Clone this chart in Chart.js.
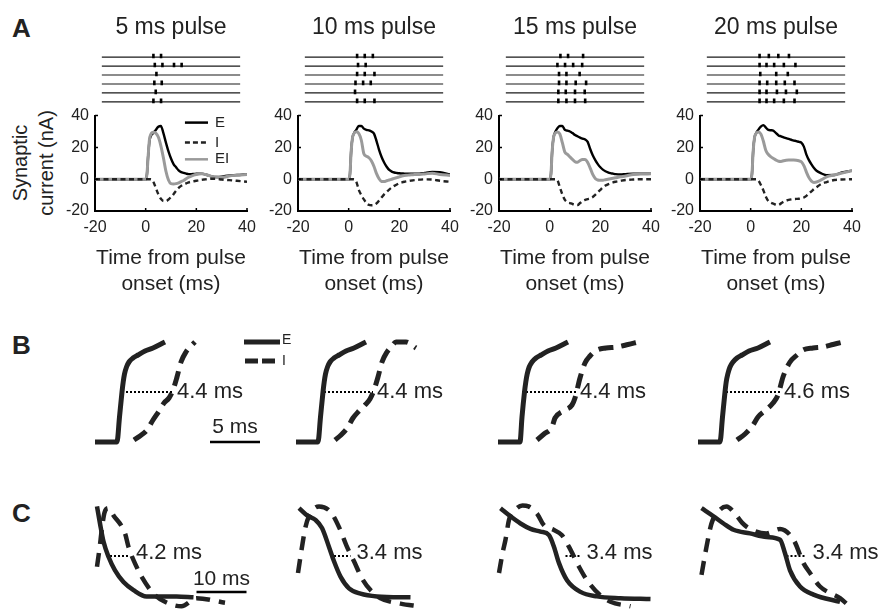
<!DOCTYPE html>
<html>
<head>
<meta charset="utf-8">
<script src="https://cdn.jsdelivr.net/npm/chart.js@4.4.0/dist/chart.umd.min.js"></script>
<style>
  body { margin: 0; background: #fff; }
  #fig { position: relative; width: 879px; height: 611px; overflow: hidden; background: #fff;
         font-family: 'Liberation Sans', Arial, Helvetica, sans-serif; color: #222; }
  #fig canvas { position: absolute; }
  .panel { position: absolute; left: 12px; font-weight: bold; font-size: 26px; line-height: 26px; color: #222; }
  .ytitle { position: absolute; left: -33px; top: 137px; width: 132px; height: 52px; transform: rotate(-90deg);
            text-align: center; font-size: 20px; line-height: 26px; color: #222; white-space: nowrap; }
</style>
</head>
<body>
<div id="fig">
  <div class="panel" style="top:15px">A</div>
  <div class="panel" style="top:332px">B</div>
  <div class="panel" style="top:500px">C</div>
  <div class="ytitle">Synaptic<br>current (nA)</div>
</div>
<script>
var FONT = "'Liberation Sans', Arial, Helvetica, sans-serif";
var INK = '#222';

// ---- panel A: pulse titles, ticks
var PULSE_TITLES = ['5 ms pulse', '10 ms pulse', '15 ms pulse', '20 ms pulse'];
var A_X_TICKS = [-20, 0, 20, 40];
var A_Y_TICKS = [-20, 0, 20, 40];

// spike times (ms from pulse onset), one list per trial row
var SPIKES_5 = [[2.4, 5.7], [3.0, 6.3, 11.3, 14.6], [3.7], [2.8, 6.0], [3.4], [2.4, 5.7]];
var SPIKES_10 = [[2.7, 6.0, 9.5], [3.1, 6.4], [2.7, 6.0, 10.2], [2.0, 5.3, 8.6], [1.8], [2.7, 6.0, 10.2]];
var SPIKES_15 = [[3.7, 7.0, 13.5], [2.4, 5.7, 9.2, 13.1], [3.1, 6.3, 12.0], [3.1, 6.3, 10.3, 14.8], [2.8, 6.0, 10.0, 14.2], [2.8, 6.3, 10.0, 14.4]];
var SPIKES_20 = [[2.9, 6.9, 11.0, 15.6], [2.9, 5.9, 9.2, 13.4, 18.4], [3.2, 10.1, 15.1], [2.9, 6.2, 10.1, 13.8, 18.0], [2.9, 5.9, 10.4, 14.3, 19.0], [2.9, 5.9, 9.2, 13.4, 18.0]];

// synaptic currents (nA), sampled at T_A (ms)
var T_A = [-20, 0, 0.5, 1, 1.5, 2, 3, 4, 5, 6, 7, 8, 9, 10, 11, 12, 13, 14, 15, 16, 17, 18, 19, 20, 21, 22, 23, 24, 25, 26, 28, 30, 33, 36, 40];

var E_5 = [0, 0, 3, 15, 24, 27, 29, 31, 33, 33.5, 29, 23, 17.5, 13, 9.5, 7.5, 5.5, 4.5, 4, 3.5, 3.2, 3.2, 3.3, 3.4, 3.5, 3.5, 3.2, 2.8, 2.3, 1.8, 1.4, 1.6, 2.4, 2.6, 3.2];
var EI_5 = [0, 0, 3, 15, 25, 28, 29.5, 29, 26.5, 21, 13.5, 5, -0.5, -2.8, -3, -2.8, -2.3, -1.5, -0.8, 0.3, 1.2, 2, 2.6, 3, 3.3, 3.4, 3.2, 2.8, 2.3, 1.8, 1.2, 1, 2, 2.5, 3];
var I_5 = [0, 0, 0, 0, 0, 0, -1.5, -5.5, -9.5, -12.3, -13.7, -13.8, -12.8, -11.2, -9.4, -7.2, -5.5, -4.2, -3.2, -2.6, -2, -1.6, -1.3, -1, -0.7, -0.4, -0.2, 0, 0.2, 0.3, 0.2, -0.2, -0.6, -1, -1.6];

var E_10 = [0, 0, 3, 18, 26, 28.5, 31, 33.5, 33.5, 31.8, 31, 30.7, 30, 28.7, 24, 18.5, 14, 10.5, 7.8, 5.8, 4.8, 4.2, 3.9, 3.7, 3.6, 3.5, 3.4, 3.4, 3.4, 3.4, 3.5, 4, 4.5, 4.4, 3];
var EI_10 = [0, 0, 3, 18, 26, 28.5, 29.8, 28.7, 24.5, 16, 14.5, 13.5, 11.5, 8, 3.5, 0.3, -1.4, -1.5, -1, -0.5, 0, 0.5, 1, 1.5, 2, 2.3, 2.5, 2.7, 2.8, 2.9, 3, 3.3, 3.8, 3, 2.4];
var I_10 = [0, 0, 0, 0, 0, 0, -1.5, -6.7, -10, -12.7, -15, -16.2, -16.4, -16.2, -15.2, -13.4, -11.4, -9.5, -8, -6.5, -5.2, -4.2, -3.3, -2.5, -2, -1.6, -1.3, -1, -0.8, -0.6, -0.3, -0.1, -0.2, -1, -1.6];

var E_15 = [0, 0, 3, 18, 26, 29, 32, 33.5, 33.5, 31, 30.5, 30, 29, 27.8, 27, 26.2, 25.5, 25, 23.5, 19, 15, 12, 9.5, 7.5, 6, 5, 4.3, 3.8, 3.5, 3.2, 3, 3.2, 3.4, 3.4, 3.4];
var EI_15 = [0, 0, 3, 18, 26, 28.5, 29.7, 28.5, 23, 17, 15.6, 14, 12.5, 11, 10.6, 11.8, 12.4, 12.4, 10.5, 7, 3, 0.5, -0.5, -0.7, -0.6, -0.3, 0, 0.3, 0.6, 0.9, 1.5, 2, 3, 3.2, 3.4];
var I_15 = [0, 0, 0, 0, 0, 0, -0.5, -5, -9.5, -13, -14.5, -15, -15.6, -16, -16.2, -15, -13.7, -13, -12.5, -12, -11.2, -9.8, -8.2, -6.7, -5.2, -4, -3.2, -2.6, -2, -1.6, -1, -0.5, -0.2, 0, 0];

var E_20 = [0, 0, 3, 18, 26, 28.5, 31, 33, 34, 32.5, 31, 30.8, 30.5, 29, 27.5, 27, 26.3, 25.8, 25.3, 24.8, 24.3, 24, 23.5, 23, 20.5, 15.5, 12, 9.3, 7, 5.3, 3.6, 2.5, 2.6, 4.2, 5.4];
var EI_20 = [0, 0, 3, 18, 26, 28.5, 29.7, 28.5, 24, 18, 15.5, 14, 13, 12, 11.3, 11.2, 11.6, 11.9, 12, 12, 12, 11.9, 11.6, 11, 8.5, 4.5, 1, -1.2, -2, -1.8, -0.3, 1.5, 2.6, 3.8, 5.4];
var I_20 = [0, 0, 0, 0, 0, 0, -0.7, -3.5, -7, -11, -13.8, -14.8, -15.4, -16, -16.2, -15.2, -14.2, -13.5, -13, -12.7, -12.5, -12.4, -12.3, -12, -11.5, -10.5, -9, -7.6, -6.2, -5, -2.9, -1.8, -0.5, -0.2, 0];

// ---- panel B: rising phases (ms from E onset, normalised current)
var B_E_T = [[-2.2, 0, 0.25, 0.5, 0.62, 0.75, 0.95, 1.2, 1.6, 2.1, 2.8, 3.6, 4.8],
             [-2.2, 0, 0.25, 0.5, 0.62, 0.75, 0.95, 1.2, 1.6, 2.1, 2.8, 3.6, 4.8],
             [-2.2, 0, 0.2, 0.45, 0.58, 0.72, 0.92, 1.2, 1.6, 2.1, 2.8, 3.6, 4.8],
             [-2.2, 0, 0.25, 0.5, 0.62, 0.78, 1.0, 1.3, 1.7, 2.2, 2.9, 3.8, 5.0]];
var B_E_V = [[0, 0, 0.25, 0.5, 0.6, 0.68, 0.75, 0.8, 0.84, 0.87, 0.91, 0.94, 1.0],
             [0, 0, 0.25, 0.5, 0.6, 0.68, 0.75, 0.8, 0.84, 0.87, 0.91, 0.94, 1.0],
             [0, 0, 0.25, 0.5, 0.6, 0.68, 0.75, 0.8, 0.84, 0.87, 0.91, 0.94, 1.0],
             [0, 0, 0.25, 0.5, 0.6, 0.68, 0.75, 0.8, 0.84, 0.87, 0.91, 0.94, 1.0]];
var B_I_T = [[1.7, 2.3, 3.0, 3.6, 4.2, 4.7, 5.2, 5.6, 6.0, 6.4, 6.9, 7.4, 7.8],
             [1.7, 2.3, 3.0, 3.5, 4.1, 4.7, 5.2, 5.6, 6.0, 6.4, 6.9, 7.4, 7.8, 8.8, 9.8],
             [1.7, 2.4, 3.2, 3.5, 4.3, 5.2, 5.5, 6.0, 6.5, 7.0, 7.7, 8.6, 9.7, 10.8, 11.8],
             [1.7, 2.5, 3.3, 3.8, 4.6, 5.3, 5.8, 6.3, 7.0, 7.7, 8.3, 9.3, 10.3, 11.3, 12.3]];
var B_I_V = [[0.02, 0.06, 0.12, 0.22, 0.31, 0.39, 0.44, 0.52, 0.65, 0.8, 0.9, 0.96, 1.0],
             [0.02, 0.07, 0.15, 0.24, 0.31, 0.37, 0.43, 0.52, 0.65, 0.8, 0.9, 0.96, 1.0, 1.0, 0.94],
             [0.02, 0.08, 0.15, 0.24, 0.31, 0.37, 0.44, 0.64, 0.79, 0.86, 0.92, 0.94, 0.95, 0.975, 1.0],
             [0.02, 0.08, 0.17, 0.25, 0.32, 0.39, 0.47, 0.65, 0.8, 0.87, 0.92, 0.94, 0.95, 0.975, 1.0]];
var B_HALF = [[0.5, 5.6], [0.6, 5.5], [0.2, 5.6], [0.6, 6.0]];
var B_LABELS = ['4.4 ms', '4.4 ms', '4.4 ms', '4.6 ms'];

// ---- panel C: decay phases (ms, normalised current)
var C_E_T = [[0, 0.6, 1.3, 2.3, 3.6, 5.3, 7.3, 9.9, 12.6, 15.9, 19.3],
             [-0.2, 1.4, 3.1, 4.4, 5.8, 6.8, 8.1, 9.8, 12.1, 15.4, 22.1],
             [-0.1, 1.9, 3.9, 5.9, 7.9, 9.6, 10.6, 11.6, 13.2, 15.9, 19.2, 23.9, 29.9],
             [-0.1, 2.3, 4.3, 6.3, 9.6, 12.9, 15.6, 16.6, 17.6, 19.6, 22.3, 27.6]];
var C_E_V = [[1.04, 0.85, 0.65, 0.48, 0.33, 0.2, 0.11, 0.04, 0.04, 0.04, 0.03],
             [1.02, 0.94, 0.89, 0.8, 0.59, 0.43, 0.26, 0.13, 0.07, 0.04, 0.03],
             [1.02, 0.93, 0.85, 0.79, 0.76, 0.72, 0.59, 0.41, 0.22, 0.09, 0.04, 0.02, 0.01],
             [1.02, 0.93, 0.85, 0.78, 0.74, 0.7, 0.67, 0.52, 0.33, 0.15, 0.06, -0.02]];
var C_I_T = [[0, 0.5, 1.0, 1.5, 2.3, 3.3, 5.6, 6.3, 7.9, 8.9, 11.3, 13.6, 16.9, 19.9, 25.6],
             [-0.4, 0.4, 1.1, 1.8, 3.8, 6.1, 7.8, 9.4, 10.8, 12.4, 14.1, 16.1, 20.1, 23.8],
             [-0.4, 0.3, 0.9, 1.6, 2.8, 4.3, 5.5, 7.2, 8.6, 10.5, 12.2, 13.6, 15.6, 17.2, 19.9, 21.9, 25.9],
             [-0.1, 0.9, 1.9, 3.2, 4.9, 6.6, 8.0, 9.6, 12.9, 15.6, 18.3, 20.3, 21.6, 23.6, 27.6, 29.3]];
var C_I_V = [[0.37, 0.57, 0.8, 0.97, 1.02, 0.94, 0.74, 0.59, 0.37, 0.26, 0.07, -0.02, -0.07, 0.02, -0.03],
             [0.3, 0.59, 0.81, 0.93, 1.04, 0.98, 0.81, 0.59, 0.43, 0.24, 0.11, 0.02, -0.04, -0.07],
             [0.3, 0.52, 0.67, 0.89, 1.0, 1.05, 1.04, 0.96, 0.83, 0.78, 0.72, 0.59, 0.37, 0.22, 0.05, -0.02, -0.07],
             [0.28, 0.59, 0.85, 0.98, 1.04, 0.96, 0.86, 0.79, 0.74, 0.79, 0.67, 0.41, 0.3, 0.15, 0.02, -0.06]];
var C_HALF = [[2.6, 6.6], [6.8, 10.1], [12.9, 15.9], [16.9, 20.9]];
var C_LABELS = ['4.2 ms', '3.4 ms', '3.4 ms', '3.4 ms'];

var SPIKES = [SPIKES_5, SPIKES_10, SPIKES_15, SPIKES_20];
var E_A = [E_5, E_10, E_15, E_20];
var EI_A = [EI_5, EI_10, EI_15, EI_20];
var I_A = [I_5, I_10, I_15, I_20];

// layout (px)
var A_AXIS_X = [95, 297.5, 498.5, 700];
var B_ONSET_X = [116.7, 318.3, 520, 720];
var C_ONSET_X = [97, 299.5, 500.5, 702];

function makeCanvas(left, top, w, h) {
  var c = document.createElement('canvas');
  c.width = w; c.height = h;
  c.style.left = left + 'px'; c.style.top = top + 'px';
  c.style.width = w + 'px'; c.style.height = h + 'px';
  document.getElementById('fig').appendChild(c);
  return c;
}

function xy(ts, vs) {
  return ts.map(function (t, i) { return {x: t, y: vs[i]}; });
}

function baseOptions() {
  return {
    responsive: false, animation: false, events: [], devicePixelRatio: 1,
    layout: {padding: 0},
    plugins: {legend: {display: false}, tooltip: {enabled: false}, title: {display: false}}
  };
}

// draws key lines and free text in data coordinates
var marks = {
  id: 'marks',
  afterDatasetsDraw: function (chart, args, opts) {
    var ctx = chart.ctx, sx = chart.scales.x, sy = chart.scales.y;
    (opts.keys || []).forEach(function (k) {
      ctx.save();
      ctx.strokeStyle = k.color; ctx.lineWidth = k.width; ctx.setLineDash(k.dash || []);
      ctx.beginPath();
      ctx.moveTo(sx.getPixelForValue(k.x0), sy.getPixelForValue(k.y));
      ctx.lineTo(sx.getPixelForValue(k.x1), sy.getPixelForValue(k.y));
      ctx.stroke();
      ctx.restore();
    });
    (opts.texts || []).forEach(function (t) {
      ctx.save();
      ctx.font = t.font; ctx.fillStyle = t.color || INK;
      ctx.textAlign = t.align || 'left'; ctx.textBaseline = 'middle';
      ctx.fillText(t.text, sx.getPixelForValue(t.x) + (t.dx || 0), sy.getPixelForValue(t.y) + (t.dy || 0));
      ctx.restore();
    });
  }
};

// small inward tick marks, matlab style
var inTicks = {
  id: 'inTicks',
  afterDraw: function (chart) {
    var ctx = chart.ctx, sx = chart.scales.x, sy = chart.scales.y, a = chart.chartArea;
    ctx.save();
    ctx.strokeStyle = '#000'; ctx.lineWidth = 1.5;
    ctx.beginPath();
    sx.ticks.forEach(function (t) {
      var px = sx.getPixelForValue(t.value);
      ctx.moveTo(px, a.bottom); ctx.lineTo(px, a.bottom - 3);
    });
    sy.ticks.forEach(function (t) {
      var py = sy.getPixelForValue(t.value);
      ctx.moveTo(a.left, py); ctx.lineTo(a.left + 3, py);
    });
    ctx.stroke();
    ctx.restore();
  }
};

function drawRaster(k) {
  var rows = SPIKES[k];
  var ds = [{
    data: rows.reduce(function (acc, r, i) {
      return acc.concat(r.map(function (t) { return {x: t, y: i + 1 - 0.12}; }));
    }, []),
    pointStyle: 'line', rotation: 90, pointRadius: 2.3, borderWidth: 2.6, pointBorderWidth: 2.6,
    borderColor: '#000', showLine: false
  }];
  rows.forEach(function (r, i) {
    ds.push({data: [{x: A_X_TICKS[0], y: i + 1}, {x: A_X_TICKS[A_X_TICKS.length - 1], y: i + 1}],
             showLine: true, borderColor: '#1a1a1a', borderWidth: 1.2, pointRadius: 0});
  });
  var opt = baseOptions();
  opt.scales = {
    x: {display: false, min: -20, max: 40},
    y: {display: false, min: 0.5, max: 6.5, reverse: true}
  };
  opt.plugins.title = {display: true, text: PULSE_TITLES[k], color: INK,
                       font: {family: FONT, size: 23, weight: 'normal'}, padding: {top: 14, bottom: 11}};
  new Chart(makeCanvas(A_AXIS_X[k], 0, 152, 113), {type: 'scatter', data: {datasets: ds}, options: opt});
}

function drawCurrents(k) {
  var ds = [
    {data: xy(T_A, I_A[k]), borderColor: '#222', borderWidth: 2.4, borderDash: [5, 3.5]},
    {data: xy(T_A, EI_A[k]), borderColor: '#9a9a9a', borderWidth: 3},
    {data: xy(T_A, E_A[k]), borderColor: '#000', borderWidth: 2.4}
  ].map(function (d) {
    d.showLine = true; d.pointRadius = 0; d.cubicInterpolationMode = 'monotone';
    return d;
  });
  var tickFont = {family: FONT, size: 16};
  var opt = baseOptions();
  opt.layout = {padding: {top: 15, right: 20, left: 0, bottom: 0}};
  opt.scales = {
    x: {
      type: 'linear', min: -20, max: 40,
      afterBuildTicks: function (s) { s.ticks = A_X_TICKS.map(function (v) { return {value: v}; }); },
      afterFit: function (s) { s.height = 89; },
      ticks: {font: tickFont, color: INK, padding: 7},
      grid: {display: false, drawTicks: false},
      border: {display: true, color: '#000', width: 2},
      title: {display: true, text: ['Time from pulse', 'onset (ms)'], color: INK,
              font: {family: FONT, size: 21, lineHeight: '26px'}, padding: {top: 0, bottom: 3}}
    },
    y: {
      type: 'linear', min: -20, max: 40,
      afterBuildTicks: function (s) { s.ticks = A_Y_TICKS.map(function (v) { return {value: v}; }); },
      afterFit: function (s) { s.width = 45; },
      ticks: {font: tickFont, color: INK, padding: 6},
      grid: {display: false, drawTicks: false},
      border: {display: true, color: '#000', width: 2}
    }
  };
  if (k === 0) {
    var lf = '15px ' + FONT;
    opt.plugins.marks = {
      keys: [
        {x0: 15.5, x1: 24.6, y: 35.6, color: '#000', width: 2.5},
        {x0: 15.5, x1: 24.6, y: 23.1, color: '#222', width: 2.5, dash: [5, 3]},
        {x0: 15.5, x1: 24.6, y: 12.5, color: '#9a9a9a', width: 2.5}
      ],
      texts: [
        {x: 27.4, y: 35.6, text: 'E', font: lf},
        {x: 27.4, y: 23.1, text: 'I', font: lf},
        {x: 27.4, y: 12.5, text: 'EI', font: lf}
      ]
    };
  }
  new Chart(makeCanvas(A_AXIS_X[k] - 45, 100, 217, 200),
            {type: 'scatter', data: {datasets: ds}, options: opt, plugins: [marks, inTicks]});
}

function shapeChart(canvas, ds, xr, yr, markOpts) {
  var opt = baseOptions();
  opt.scales = {
    x: {display: false, type: 'linear', min: xr[0], max: xr[1]},
    y: {display: false, type: 'linear', min: yr[0], max: yr[1]}
  };
  opt.plugins.marks = markOpts;
  ds.forEach(function (d) {
    d.showLine = true; d.pointRadius = 0; d.clip = false;
    if (d.cubicInterpolationMode === undefined) d.cubicInterpolationMode = 'monotone';
  });
  new Chart(canvas, {type: 'scatter', data: {datasets: ds}, options: opt, plugins: [marks]});
}

function drawB(k) {
  var ds = [
    {data: xy(B_E_T[k], B_E_V[k]), borderColor: INK, borderWidth: 5, borderJoinStyle: 'round'},
    {data: xy(B_I_T[k], B_I_V[k]), borderColor: INK, borderWidth: 5, borderDash: [15, 8]},
    {data: [{x: B_HALF[k][0], y: 0.5}, {x: B_HALF[k][1], y: 0.5}], borderColor: '#000', borderWidth: 2, borderDash: [2, 2]}
  ];
  var lbl = '22px ' + FONT;
  var m = {keys: [], texts: [{x: B_HALF[k][1], dx: 4, y: 0.5, text: B_LABELS[k], font: lbl}]};
  if (k === 0) {
    // 5 ms scale bar
    ds.push({data: [{x: 9.3, y: 0}, {x: 14.3, y: 0}], borderColor: '#000', borderWidth: 2.5});
    m.texts.push({x: 11.8, y: 0.15, text: '5 ms', font: '21px ' + FONT, align: 'center'});
    m.keys.push({x0: 12.7, x1: 16.3, y: 1.0, color: INK, width: 5});
    m.keys.push({x0: 12.8, x1: 15.9, y: 0.81, color: INK, width: 5, dash: [13, 4]});
    m.texts.push({x: 16.5, y: 1.02, text: 'E', font: '14px ' + FONT});
    m.texts.push({x: 16.5, y: 0.81, text: 'I', font: '14px ' + FONT});
  }
  shapeChart(makeCanvas(B_ONSET_X[k] - 25, 330, 205, 124), ds, [-2.5, 18], [-0.12, 1.12], m);
}

function drawC(k) {
  var ds = [
    {data: xy(C_E_T[k], C_E_V[k]), borderColor: INK, borderWidth: 4.5},
    {data: xy(C_I_T[k], C_I_V[k]), borderColor: INK, borderWidth: 4.5, borderDash: [14, 9]},
    {data: [{x: C_HALF[k][0], y: 0.49}, {x: C_HALF[k][1], y: 0.49}], borderColor: '#000', borderWidth: 2, borderDash: [2, 2]}
  ];
  var m = {keys: [], texts: [{x: C_HALF[k][1], dx: 6, y: 0.52, text: C_LABELS[k], font: '22px ' + FONT}]};
  if (k === 0) {
    // 10 ms scale bar
    ds.push({data: [{x: 19.9, y: 0.09}, {x: 29.9, y: 0.09}], borderColor: '#000', borderWidth: 2.5});
    m.texts.push({x: 24.9, y: 0.23, text: '10 ms', font: '21px ' + FONT, align: 'center'});
  }
  shapeChart(makeCanvas(C_ONSET_X[k] - 10, 496, 200, 118), ds, [-2, 38], [-14 / 90, 104 / 90], m);
}

for (var k = 0; k < 4; k++) {
  drawRaster(k);
  drawCurrents(k);
  drawB(k);
  drawC(k);
}
</script>
</body>
</html>
